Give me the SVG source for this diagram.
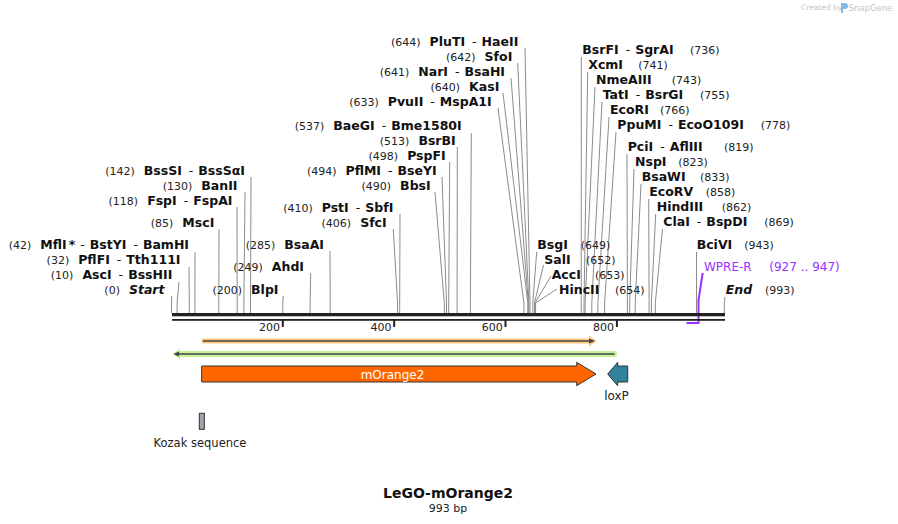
<svg xmlns="http://www.w3.org/2000/svg" width="898" height="524" viewBox="0 0 898 524">
<style>
text{font-family:"DejaVu Sans","Liberation Sans",sans-serif;fill:#222}
.n{font-size:11px;font-weight:normal;fill:#222}
.b{font-size:12.5px;font-weight:bold;fill:#111}
.h{font-weight:normal}
.i{font-style:italic}
.p{fill:#9b30ff;font-size:12px}
.c polyline{fill:none;stroke:#8c8c8c;stroke-width:1}
.f{font-size:12px}
</style>
<rect width="898" height="524" fill="#fff"/>
<g id="watermark">
<text x="801" y="10" font-size="7.5" style="fill:#c4c4c4">Created by</text>
<path d="M841,3 h4 a3,3 0 0 1 0,6 h-2 v4 h-2 z" fill="#7fb9e6"/>
<text x="848.5" y="11" font-size="8.5" style="fill:#c4c4c4">SnapGene</text>
</g>
<g id="connectors" class="c">
<polyline points="251,177 250.5,303 250.5,313"/>
<polyline points="245,192 243.9,303 243.9,313"/>
<polyline points="237,207 237.2,303 237.2,313"/>
<polyline points="219,229 218.8,303 218.8,313"/>
<polyline points="195,252 194.9,303 194.9,313"/>
<polyline points="189,267 189.3,303 189.3,313"/>
<polyline points="179,282 177.1,303 177.1,313"/>
<polyline points="171.7,296 171.5,303 171.5,313"/>
<polyline points="330,251 330.2,303 330.2,313"/>
<polyline points="310.7,273 310.1,303 310.1,313"/>
<polyline points="283.3,296 282.8,303 282.8,313"/>
<polyline points="400,214 399.7,303 399.7,313"/>
<polyline points="393.3,229 397.5,303 397.5,313"/>
<polyline points="442,177 446.5,303 446.5,313"/>
<polyline points="435,192 444.3,303 444.3,313"/>
<polyline points="449.7,162 448.7,303 448.7,313"/>
<polyline points="457.3,147 457.1,303 457.1,313"/>
<polyline points="471.3,133 470.4,303 470.4,313"/>
<polyline points="498,108 523.9,303 523.9,313"/>
<polyline points="503,93 527.8,303 527.8,313"/>
<polyline points="511,78 528.3,303 528.3,313"/>
<polyline points="517.7,63 528.9,303 528.9,313"/>
<polyline points="525,48 530,303 530,313"/>
<polyline points="581.3,57 581.2,303 581.2,313"/>
<polyline points="587.7,72 584,303 584,313"/>
<polyline points="595,87 585.1,303 585.1,313"/>
<polyline points="602,102 591.8,303 591.8,313"/>
<polyline points="609,117 597.9,303 597.9,313"/>
<polyline points="616,132 604.6,303 604.6,313"/>
<polyline points="627,154 627.4,303 627.4,313"/>
<polyline points="634,169 629.7,303 629.7,313"/>
<polyline points="641,184 635.2,303 635.2,313"/>
<polyline points="648.7,199 649.1,303 649.1,313"/>
<polyline points="655.7,214 651.4,303 651.4,313"/>
<polyline points="662.5,229 655.3,303 655.3,313"/>
<polyline points="696.5,252 696.5,303 696.5,313"/>
<polyline points="725,297 724.3,303 724.3,313"/>
<polyline points="536.7,252 532.8,303 532.8,313"/>
<polyline points="543.5,265 534.5,303 534.5,313"/>
<polyline points="551,276 535,303 535,313"/>
<polyline points="557,289 535.6,303 535.6,313"/>
<polyline points="702.7,273 698.5,300 698.5,323 686.5,323" style="stroke:#9b30ff;stroke-width:2"/>
</g>
<g id="ruler">
<rect x="172" y="313" width="553" height="3.3" fill="#222"/>
<rect x="172" y="319" width="553" height="1.8" fill="#222"/>
<path d="M282.8,319v8M394.2,319v8M505.5,319v8M616.9,319v8" stroke="#222" stroke-width="2"/>
<text class="n" x="280" y="331" text-anchor="end">200</text>
<text class="n" x="391.4" y="331" text-anchor="end">400</text>
<text class="n" x="502.7" y="331" text-anchor="end">600</text>
<text class="n" x="614.1" y="331" text-anchor="end">800</text>
</g>
<g id="l-BssSI"><text class="b" x="245" y="175" text-anchor="end"><tspan class="n">(142)</tspan><tspan dx="9">BssSI</tspan><tspan class="h" dx="7">-</tspan><tspan dx="5">BssSαI</tspan></text></g>
<g id="l-BanII"><text class="b" x="237.5" y="190" text-anchor="end"><tspan class="n">(130)</tspan><tspan dx="9">BanII</tspan></text></g>
<g id="l-FspI"><text class="b" x="232.5" y="205" text-anchor="end"><tspan class="n">(118)</tspan><tspan dx="9">FspI</tspan><tspan class="h" dx="7">-</tspan><tspan dx="5">FspAI</tspan></text></g>
<g id="l-MscI"><text class="b" x="214.3" y="227" text-anchor="end"><tspan class="n">(85)</tspan><tspan dx="9">MscI</tspan></text></g>
<g id="l-MflI"><text class="b" x="189" y="249" text-anchor="end"><tspan class="n">(42)</tspan><tspan dx="9">MflI</tspan><tspan dx="2">*</tspan><tspan class="h" dx="5">-</tspan><tspan dx="5">BstYI</tspan><tspan class="h" dx="7">-</tspan><tspan dx="5">BamHI</tspan></text></g>
<g id="l-PflFI"><text class="b" x="180.5" y="264" text-anchor="end"><tspan class="n">(32)</tspan><tspan dx="9">PflFI</tspan><tspan class="h" dx="7">-</tspan><tspan dx="5">Tth111I</tspan></text></g>
<g id="l-AscI"><text class="b" x="172.3" y="279" text-anchor="end"><tspan class="n">(10)</tspan><tspan dx="9">AscI</tspan><tspan class="h" dx="7">-</tspan><tspan dx="5">BssHII</tspan></text></g>
<g id="l-Start"><text class="b" x="164.5" y="294" text-anchor="end"><tspan class="n">(0)</tspan><tspan class="i" dx="9">Start</tspan></text></g>
<g id="l-BsaAI"><text class="b" x="324" y="249" text-anchor="end"><tspan class="n">(285)</tspan><tspan dx="9">BsaAI</tspan></text></g>
<g id="l-AhdI"><text class="b" x="304" y="271" text-anchor="end"><tspan class="n">(249)</tspan><tspan dx="9">AhdI</tspan></text></g>
<g id="l-BlpI"><text class="b" x="278.5" y="294" text-anchor="end"><tspan class="n">(200)</tspan><tspan dx="9">BlpI</tspan></text></g>
<g id="l-PstI"><text class="b" x="393.3" y="212" text-anchor="end"><tspan class="n">(410)</tspan><tspan dx="9">PstI</tspan><tspan class="h" dx="7">-</tspan><tspan dx="5">SbfI</tspan></text></g>
<g id="l-SfcI"><text class="b" x="386.7" y="227" text-anchor="end"><tspan class="n">(406)</tspan><tspan dx="9">SfcI</tspan></text></g>
<g id="l-PflMI"><text class="b" x="436.7" y="175" text-anchor="end"><tspan class="n">(494)</tspan><tspan dx="9">PflMI</tspan><tspan class="h" dx="7">-</tspan><tspan dx="5">BseYI</tspan></text></g>
<g id="l-BbsI"><text class="b" x="430.7" y="190" text-anchor="end"><tspan class="n">(490)</tspan><tspan dx="9">BbsI</tspan></text></g>
<g id="l-PspFI"><text class="b" x="445.7" y="160" text-anchor="end"><tspan class="n">(498)</tspan><tspan dx="9">PspFI</tspan></text></g>
<g id="l-BsrBI"><text class="b" x="455.7" y="145" text-anchor="end"><tspan class="n">(513)</tspan><tspan dx="9">BsrBI</tspan></text></g>
<g id="l-BaeGI"><text class="b" x="461.7" y="130" text-anchor="end"><tspan class="n">(537)</tspan><tspan dx="9">BaeGI</tspan><tspan class="h" dx="7">-</tspan><tspan dx="5">Bme1580I</tspan></text></g>
<g id="l-PvuII"><text class="b" x="491.7" y="106" text-anchor="end"><tspan class="n">(633)</tspan><tspan dx="9">PvuII</tspan><tspan class="h" dx="7">-</tspan><tspan dx="5">MspA1I</tspan></text></g>
<g id="l-KasI"><text class="b" x="499.3" y="91" text-anchor="end"><tspan class="n">(640)</tspan><tspan dx="9">KasI</tspan></text></g>
<g id="l-NarI"><text class="b" x="505" y="76" text-anchor="end"><tspan class="n">(641)</tspan><tspan dx="9">NarI</tspan><tspan class="h" dx="7">-</tspan><tspan dx="5">BsaHI</tspan></text></g>
<g id="l-SfoI"><text class="b" x="512.3" y="61" text-anchor="end"><tspan class="n">(642)</tspan><tspan dx="9">SfoI</tspan></text></g>
<g id="l-PluTI"><text class="b" x="518.3" y="46" text-anchor="end"><tspan class="n">(644)</tspan><tspan dx="9">PluTI</tspan><tspan class="h" dx="7">-</tspan><tspan dx="5">HaeII</tspan></text></g>
<g id="l-BsrFI"><text class="b" x="582.3" y="54">BsrFI<tspan class="h" dx="7">-</tspan><tspan dx="5">SgrAI</tspan></text><text class="n" x="690" y="54">(736)</text></g>
<g id="l-XcmI"><text class="b" x="588.3" y="69">XcmI</text><text class="n" x="638.3" y="69">(741)</text></g>
<g id="l-NmeAIII"><text class="b" x="596" y="84">NmeAIII</text><text class="n" x="671.7" y="84">(743)</text></g>
<g id="l-TatI"><text class="b" x="602.7" y="99">TatI<tspan class="h" dx="7">-</tspan><tspan dx="5">BsrGI</tspan></text><text class="n" x="700" y="99">(755)</text></g>
<g id="l-EcoRI"><text class="b" x="610" y="114">EcoRI</text><text class="n" x="660" y="114">(766)</text></g>
<g id="l-PpuMI"><text class="b" x="617.3" y="129">PpuMI<tspan class="h" dx="7">-</tspan><tspan dx="5">EcoO109I</tspan></text><text class="n" x="760.7" y="129">(778)</text></g>
<g id="l-PciI"><text class="b" x="627.7" y="151">PciI<tspan class="h" dx="7">-</tspan><tspan dx="5">AflIII</tspan></text><text class="n" x="724" y="151">(819)</text></g>
<g id="l-NspI"><text class="b" x="635" y="166">NspI</text><text class="n" x="678.3" y="166">(823)</text></g>
<g id="l-BsaWI"><text class="b" x="641.7" y="181">BsaWI</text><text class="n" x="700" y="181">(833)</text></g>
<g id="l-EcoRV"><text class="b" x="649.3" y="196">EcoRV</text><text class="n" x="705.7" y="196">(858)</text></g>
<g id="l-HindIII"><text class="b" x="656.7" y="211">HindIII</text><text class="n" x="721.7" y="211">(862)</text></g>
<g id="l-ClaI"><text class="b" x="663.3" y="226">ClaI<tspan class="h" dx="7">-</tspan><tspan dx="5">BspDI</tspan></text><text class="n" x="764.3" y="226">(869)</text></g>
<g id="l-BsgI"><text class="b" x="537.3" y="249">BsgI</text><text class="n" x="580.7" y="249">(649)</text></g>
<g id="l-BciVI"><text class="b" x="696.7" y="249">BciVI</text><text class="n" x="744.3" y="249">(943)</text></g>
<g id="l-SalI"><text class="b" x="544.3" y="264">SalI</text><text class="n" x="586" y="264">(652)</text></g>
<g id="l-WPRE-R"><text class="p" x="704" y="271">WPRE-R</text><text class="p" x="769.3" y="271" font-size="10.5">(927 .. 947)</text></g>
<g id="l-AccI"><text class="b" x="551.7" y="279">AccI</text><text class="n" x="595" y="279">(653)</text></g>
<g id="l-HincII"><text class="b" x="559" y="294">HincII</text><text class="n" x="615" y="294">(654)</text></g>
<g id="l-End"><text class="b i" x="725.7" y="294">End</text><text class="n" x="765" y="294">(993)</text></g>
<g id="orf-orange">
<path d="M201.7,338.5 H589 V335.5 L596.5,341 L589,346.5 V343.5 H201.7 Z" fill="#fcc97e"/>
<path d="M203,341 H591" stroke="#444" stroke-width="1.6"/>
<path d="M589,338.5 L595,341 L589,343.5 Z" fill="#444"/>
</g>
<g id="orf-green">
<path d="M616.7,351 H180 V348.5 L172.5,354 L180,359.5 V357 H616.7 Z" fill="#c6f39a"/>
<path d="M614.5,354 H176" stroke="#444" stroke-width="1.6"/>
<path d="M179,351.5 L173.5,354 L179,356.5 Z" fill="#444"/>
</g>
<g id="f-mOrange2">
<path d="M201.7,366 H576.7 V362.3 L596,374 L576.7,385.7 V382 H201.7 Z" fill="#ff6600" stroke="#333" stroke-width="1"/>
<text x="392.5" y="378.5" text-anchor="middle" class="f" style="fill:#fff">mOrange2</text>
</g>
<g id="f-loxP">
<path d="M607.7,374 L617.7,362.3 V366 H627.7 V382 H617.7 V385.7 Z" fill="#31839b" stroke="#333" stroke-width="1"/>
<text x="616.5" y="399.5" text-anchor="middle" class="f">loxP</text>
</g>
<g id="f-Kozak">
<rect x="199.3" y="413.3" width="5" height="16" fill="#a0a6ae" stroke="#333" stroke-width="1"/>
<text x="200" y="447" text-anchor="middle" font-size="11.5">Kozak sequence</text>
</g>
<g id="title">
<text x="448" y="497.5" text-anchor="middle" font-size="14" font-weight="bold" style="fill:#111">LeGO-mOrange2</text>
<text x="448" y="511.5" text-anchor="middle" font-size="11">993 bp</text>
</g>
</svg>
